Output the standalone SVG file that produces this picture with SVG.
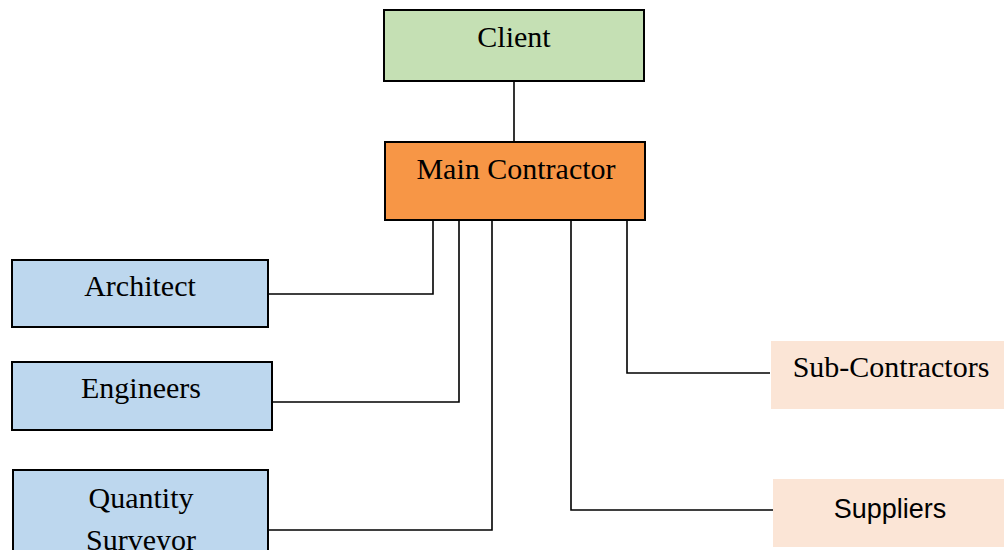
<svg xmlns="http://www.w3.org/2000/svg" width="1004" height="550" viewBox="0 0 1004 550">
  <style>
    .box { stroke: #000; stroke-width: 2; }
    .green { fill: #C5E0B4; }
    .orange { fill: #F79646; }
    .blue { fill: #BDD7EE; }
    .peach { fill: #FBE5D6; stroke: none; }
    .lbl { font-family: "Liberation Serif", "Times New Roman", serif; font-size: 30px; fill: #000; text-anchor: middle; }
    .lbl-sans { font-family: "Liberation Sans", Arial, sans-serif; font-size: 27px; fill: #000; text-anchor: middle; }
    .conn { fill: none; stroke: #000; stroke-width: 1.6; }
  </style>
  <rect width="1004" height="550" fill="#fff"/>

  <g id="connectors">
    <line class="conn" x1="514" y1="81" x2="514" y2="142"/>
    <polyline class="conn" points="433,216 433,294 268,294"/>
    <polyline class="conn" points="459,216 459,402 272,402"/>
    <polyline class="conn" points="492,216 492,530 268,530"/>
    <polyline class="conn" points="571,209 571,510 775,510"/>
    <polyline class="conn" points="627,209 627,373 770,373"/>
  </g>

  <g id="client">
    <rect class="box green" x="384" y="10" width="260" height="71"/>
    <text class="lbl" x="514" y="47">Client</text>
  </g>

  <g id="main-contractor">
    <rect class="box orange" x="385" y="142" width="260" height="78"/>
    <text class="lbl" x="516" y="179">Main Contractor</text>
  </g>

  <g id="architect">
    <rect class="box blue" x="12" y="260" width="256" height="67"/>
    <text class="lbl" x="140" y="296">Architect</text>
  </g>

  <g id="engineers">
    <rect class="box blue" x="12" y="362" width="260" height="68"/>
    <text class="lbl" x="141" y="398">Engineers</text>
  </g>

  <g id="quantity-surveyor">
    <rect class="box blue" x="13" y="470" width="255" height="100"/>
    <text class="lbl" x="141" y="508">Quantity</text>
    <text class="lbl" x="141" y="550">Surveyor</text>
  </g>

  <g id="sub-contractors">
    <rect class="peach" x="771" y="341" width="233" height="68"/>
    <text class="lbl" x="891" y="377">Sub-Contractors</text>
  </g>

  <g id="suppliers">
    <rect class="peach" x="773" y="479" width="231" height="68"/>
    <text class="lbl-sans" x="890" y="518">Suppliers</text>
  </g>
</svg>
